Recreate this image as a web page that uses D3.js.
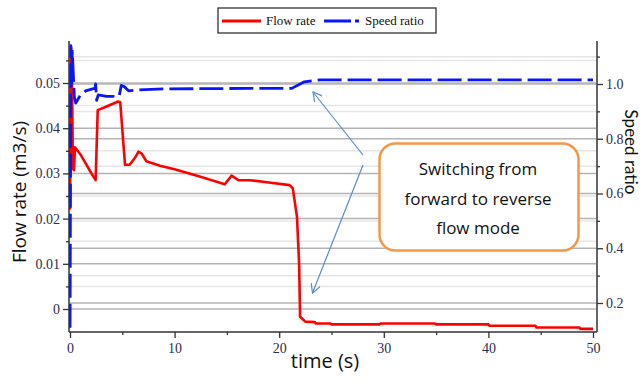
<!DOCTYPE html>
<html>
<head>
<meta charset="utf-8">
<script src="https://cdn.jsdelivr.net/npm/d3@7"></script>
<style>
  html, body { margin: 0; padding: 0; background: #fff; }
  svg { display: block; }
</style>
</head>
<body>
<svg id="chart" width="643" height="380"></svg>
<script>
// ---- data ----
const timeTicks = [0, 10, 20, 30, 40, 50];
const timeMinorTicks = [5, 15, 25, 35, 45];
const flowTicks = [0, 0.01, 0.02, 0.03, 0.04, 0.05];
const flowMinorTicks = [0.005, 0.015, 0.025, 0.035, 0.045, 0.055];
const speedTicks = [0.2, 0.4, 0.6, 0.8, 1.0];
const speedMinorTicks = [0.3, 0.5, 0.7, 0.9, 1.1];

const flowTime = [0, 0.1, 0.18, 0.28, 0.38, 0.48, 1.0, 1.5, 2.0, 2.45, 2.65, 3.5, 4.6, 4.8, 5.26, 5.7, 6.2, 6.55, 6.85, 7.3, 8.6, 10, 12.4, 14.8, 15.45, 16.1, 17.2, 19, 21.0, 21.3, 21.7, 21.9, 22.0, 22.5, 23.4, 23.5, 24.9, 25.0, 29.6, 29.7, 34.9, 35.0, 40.0, 40.1, 44.5, 44.6, 48.7, 48.8, 50.0];
const flowRate = [0.022, 0.058, 0.052, 0.031, 0.0307, 0.0358, 0.0342, 0.0322, 0.0302, 0.0285, 0.044, 0.0448, 0.0459, 0.0458, 0.0319, 0.0319, 0.0334, 0.0348, 0.0344, 0.0327, 0.0317, 0.0309, 0.0293, 0.0276, 0.0295, 0.0285, 0.0285, 0.028, 0.0274, 0.0267, 0.0204, 0.0102, -0.0017, -0.0028, -0.0029, -0.0032, -0.0032, -0.0034, -0.0034, -0.0032, -0.0032, -0.0034, -0.0034, -0.0037, -0.0037, -0.0041, -0.0041, -0.0044, -0.0044];

const speedTime = [0, 0.08, 0.15, 0.22, 0.3, 0.42, 0.55, 1.0, 1.5, 2.4, 2.45, 2.55, 2.7, 3.5, 4.7, 4.9, 5.2, 5.6, 6.5, 9, 17, 21.2, 22.0, 22.4, 23.9, 50];
const speedRatio = [0.0, 1.14, 1.0, 1.12, 1.05, 0.95, 0.93, 0.96, 0.975, 0.985, 1.0, 0.94, 0.96, 0.955, 0.955, 0.995, 0.99, 0.975, 0.978, 0.982, 0.984, 0.984, 1.0, 1.008, 1.015, 1.015];

const seriesNames = ["Flow rate", "Speed ratio"];
const annotationLines = ["Switching from", "forward to reverse", "flow mode"];

// ---- layout ----
const svg = d3.select("#chart");
const L = 69, R = 597, T = 44, B = 332;
const x = d3.scaleLinear().domain([0, 50]).range([70, 593]);
const yL = d3.scaleLinear().domain([0, 0.05]).range([309, 83]);
const yR = d3.scaleLinear().domain([0.2, 1.0]).range([303, 84]);

const tickFont = "'Liberation Serif', 'Times New Roman', serif";
const tickColor = "#2c2c50";

svg.append("defs").append("clipPath").attr("id", "plotclip")
  .append("rect").attr("x", L).attr("y", T).attr("width", R - L).attr("height", B - T);

// grid lines
const grid = svg.append("g");
function gridLines(vals, scale, color) {
  grid.selectAll(null).data(vals).enter().append("line")
    .attr("x1", L + 1).attr("x2", R - 1)
    .attr("y1", d => scale(d)).attr("y2", d => scale(d))
    .attr("stroke", color).attr("stroke-width", 1.5);
}
gridLines(flowMinorTicks, yL, "#e6e6e6");
gridLines(speedMinorTicks, yR, "#e6e6e6");
gridLines(flowTicks, yL, "#b4b4b4");
gridLines(speedTicks, yR, "#b4b4b4");

// series
const plot = svg.append("g").attr("clip-path", "url(#plotclip)");
const flowLine = d3.line().x((d, i) => x(flowTime[i])).y(d => yL(d));
const speedLine = d3.line().x((d, i) => x(speedTime[i])).y(d => yR(d));

plot.append("path").datum(flowRate)
  .attr("d", flowLine).attr("fill", "none")
  .attr("stroke", "#ff0000").attr("stroke-width", 2.6).attr("stroke-linejoin", "round");
plot.append("path").datum(speedRatio)
  .attr("d", speedLine).attr("fill", "none")
  .attr("stroke", "#0a14ff").attr("stroke-width", 2.8)
  .attr("stroke-dasharray", "24,6").attr("stroke-linejoin", "round");

// axes
function styleAxis(g) {
  g.select(".domain").remove();
  g.selectAll(".tick line").attr("stroke", "#333").attr("stroke-width", 1.3);
  g.selectAll(".tick text").attr("fill", tickColor)
    .style("font-family", tickFont).style("font-size", "14px");
}
svg.append("g").attr("transform", `translate(${L},0)`)
  .call(d3.axisLeft(yL).tickValues(flowTicks).tickSize(6).tickPadding(3)
    .tickFormat(d => d === 0 ? "0" : d3.format(".2f")(d)))
  .call(styleAxis);
svg.append("g").attr("transform", `translate(${L},0)`)
  .call(d3.axisLeft(yL).tickValues(flowMinorTicks).tickSize(3).tickFormat(""))
  .call(styleAxis);
svg.append("g").attr("transform", `translate(${R},0)`)
  .call(d3.axisRight(yR).tickValues(speedTicks).tickSize(6).tickPadding(3).tickFormat(d3.format(".1f")))
  .call(styleAxis);
svg.append("g").attr("transform", `translate(${R},0)`)
  .call(d3.axisRight(yR).tickValues(speedMinorTicks).tickSize(3).tickFormat(""))
  .call(styleAxis);
svg.append("g").attr("transform", `translate(0,${B})`)
  .call(d3.axisBottom(x).tickValues(timeTicks).tickSize(6).tickPadding(5).tickFormat(d3.format("d")))
  .call(styleAxis);
svg.append("g").attr("transform", `translate(0,${B})`)
  .call(d3.axisBottom(x).tickValues(timeMinorTicks).tickSize(3).tickFormat(""))
  .call(styleAxis);

// axis lines
svg.append("line").attr("x1", L).attr("x2", L).attr("y1", T - 3).attr("y2", B)
  .attr("stroke", "#333").attr("stroke-width", 1.5);
svg.append("line").attr("x1", R).attr("x2", R).attr("y1", T - 3).attr("y2", B)
  .attr("stroke", "#333").attr("stroke-width", 1.5);
svg.append("line").attr("x1", L).attr("x2", R).attr("y1", B).attr("y2", B)
  .attr("stroke", "#333").attr("stroke-width", 1.5);

// axis titles
const titleFont = "'Open Sans', 'Noto Sans', sans-serif";
svg.append("text").attr("transform", "translate(26,192) rotate(-90)")
  .attr("text-anchor", "middle").attr("fill", "#111")
  .style("font-family", titleFont).style("font-size", "19px")
  .text("Flow rate (m3/s)");
svg.append("text").attr("transform", "translate(625,152) rotate(90)")
  .attr("text-anchor", "middle").attr("fill", "#111")
  .style("font-family", "Lato, 'Open Sans', sans-serif").style("font-size", "17px")
  .text("Speed ratio");
svg.append("text").attr("x", 325).attr("y", 368)
  .attr("text-anchor", "middle").attr("fill", "#111")
  .style("font-family", titleFont).style("font-size", "20px")
  .text("time (s)");

// legend
const lg = svg.append("g");
lg.append("rect").attr("x", 218).attr("y", 8).attr("width", 218).attr("height", 25)
  .attr("fill", "#fff").attr("stroke", "#222").attr("stroke-width", 1.2);
lg.append("line").attr("x1", 222).attr("x2", 261).attr("y1", 21).attr("y2", 21)
  .attr("stroke", "#ff0000").attr("stroke-width", 3);
lg.append("text").attr("x", 266).attr("y", 25).text(seriesNames[0])
  .attr("fill", "#111").style("font-family", tickFont).style("font-size", "13px");
lg.append("line").attr("x1", 324).attr("x2", 360).attr("y1", 21).attr("y2", 21)
  .attr("stroke", "#0a14ff").attr("stroke-width", 3).attr("stroke-dasharray", "27,4,4,10");
lg.append("text").attr("x", 365).attr("y", 25).text(seriesNames[1])
  .attr("fill", "#111").style("font-family", tickFont).style("font-size", "13px");

// annotation arrows
const arrowColor = "#5b8cc8";
const defs = svg.select("defs");
defs.append("marker").attr("id", "arrowhead").attr("viewBox", "0 0 10 10")
  .attr("refX", 9).attr("refY", 5).attr("markerWidth", 10).attr("markerHeight", 10)
  .attr("markerUnits", "userSpaceOnUse").attr("orient", "auto")
  .append("path").attr("d", "M0,0 L9,5 L0,10").attr("fill", "none")
  .attr("stroke", arrowColor).attr("stroke-width", 1.2);
svg.append("line").attr("x1", 363).attr("y1", 155).attr("x2", 313).attr("y2", 92)
  .attr("stroke", arrowColor).attr("stroke-width", 1.2).attr("marker-end", "url(#arrowhead)");
svg.append("line").attr("x1", 363).attr("y1", 165).attr("x2", 312.5).attr("y2", 293)
  .attr("stroke", arrowColor).attr("stroke-width", 1.2).attr("marker-end", "url(#arrowhead)");

// annotation box
svg.append("rect").attr("x", 379.5).attr("y", 143.5).attr("width", 199).attr("height", 107)
  .attr("rx", 16).attr("ry", 16).attr("fill", "#fff")
  .attr("stroke", "#f79646").attr("stroke-width", 2.5);
svg.append("text").attr("text-anchor", "middle").attr("fill", "#111")
  .style("font-family", titleFont).style("font-size", "17px")
  .selectAll("tspan").data(annotationLines).enter().append("tspan")
  .attr("x", 478).attr("y", (d, i) => 175 + i * 29.5).text(d => d);
</script>
</body>
</html>
